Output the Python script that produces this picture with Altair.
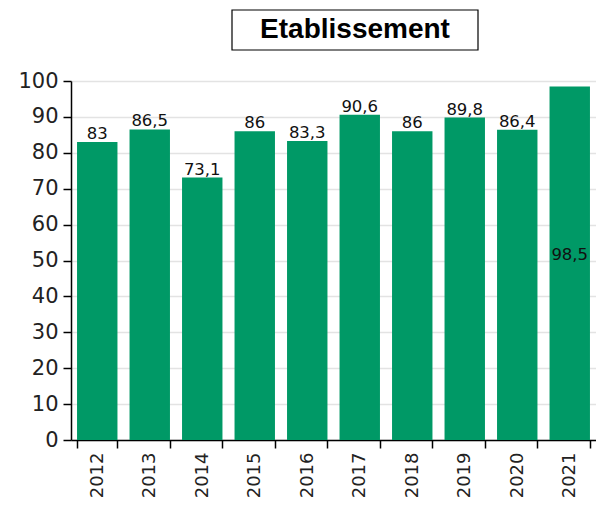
import altair as alt
import pandas as pd

years = ["2012", "2013", "2014", "2015", "2016", "2017", "2018", "2019", "2020", "2021"]
values = [83, 86.5, 73.1, 86, 83.3, 90.6, 86, 89.8, 86.4, 98.5]
labels = ["83", "86,5", "73,1", "86", "83,3", "90,6", "86", "89,8", "86,4", "98,5"]
inside = [False] * 9 + [True]
title_text = "Etablissement"

df = pd.DataFrame({"year": years, "value": values, "label": labels, "inside": inside})
df["label_y"] = [v / 2 if ins else v for v, ins in zip(values, inside)]

GREEN = "#009966"
FONT = "DejaVu Sans"

x_axis = alt.Axis(labelAngle=-90, labelFontSize=18, labelFont=FONT,
                  labelColor="#222222", domainColor="#000000", domainWidth=1.5,
                  tickColor="#000000", tickWidth=1.5, tickSize=8,
                  tickBand="extent", labelPadding=4, labelOverlap=False)
y_axis = alt.Axis(values=list(range(0, 101, 10)), labelFontSize=21, labelFont=FONT,
                  labelColor="#222222", domainColor="#000000", domainWidth=1.5,
                  tickColor="#000000", tickWidth=1.5, tickSize=8,
                  gridColor="#e3e3e3", gridWidth=1.5, labelPadding=5,
                  labelOverlap=False)
x_scale = alt.Scale(paddingInner=0.23, paddingOuter=0.115)
y_scale = alt.Scale(domain=[0, 100], nice=False)

bars = alt.Chart(df).mark_bar(color=GREEN).encode(
    x=alt.X("year:N", title=None, sort=years, scale=x_scale, axis=x_axis),
    y=alt.Y("value:Q", title=None, scale=y_scale, axis=y_axis),
)

text = alt.Chart(df).mark_text(baseline="bottom", dy=0, fontSize=16.5, font=FONT,
                               color="#111111").encode(
    x=alt.X("year:N", title=None, sort=years, scale=x_scale, axis=x_axis),
    y=alt.Y("label_y:Q", title=None, scale=y_scale, axis=y_axis),
    text="label:N",
)

box = alt.Chart(alt.Data(values=[{}])).mark_rect(fill="white", stroke="black",
                                                  strokeWidth=1.2).encode(
    x=alt.value(161), x2=alt.value(407), y=alt.value(-71), y2=alt.value(-31)
)
title = alt.Chart(alt.Data(values=[{}])).mark_text(
    text=title_text, font="Liberation Sans", fontWeight="bold", fontSize=28,
    color="black", align="center", baseline="middle"
).encode(x=alt.value(284), y=alt.value(-51))

chart = alt.layer(bars, text, box, title).properties(
    width=525, height=359,
    autosize=alt.AutoSizeParams(type="none"),
    padding={"left": 63, "top": 73, "right": 0, "bottom": 58},
).configure_view(stroke=None)

chart.save("out.html", embed_options={"renderer": "svg", "actions": False})
